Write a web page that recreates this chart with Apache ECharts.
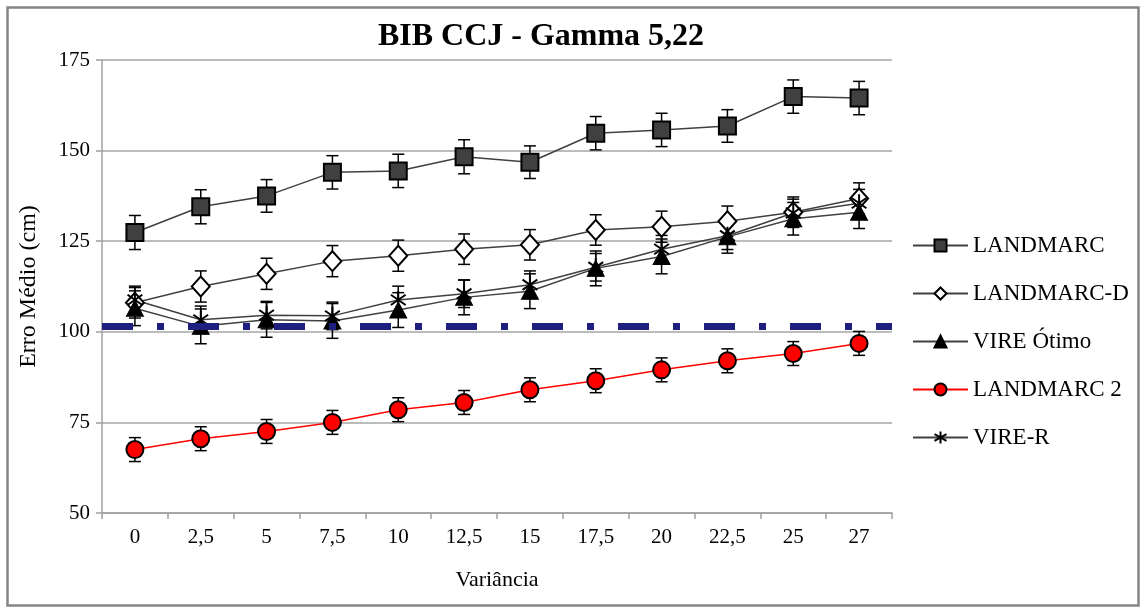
<!DOCTYPE html>
<html>
<head>
<meta charset="utf-8">
<script src="https://cdn.jsdelivr.net/npm/echarts@6/dist/echarts.min.js"></script>
<style>
html,body{margin:0;padding:0;background:#fff;}
#chart{width:1141px;height:608px;}
</style>
</head>
<body>
<div id="chart"></div>
<script>
const categories = ['0','2,5','5','7,5','10','12,5','15','17,5','20','22,5','25','27'];
const seriesNames = ['LANDMARC','LANDMARC-D','VIRE Ótimo','LANDMARC 2','VIRE-R'];
const landmarc     = [127.4,134.5,137.5,144.0,144.4,148.3,146.8,154.8,155.7,156.8,164.9,164.5];
const landmarcErr  = [4.7,4.7,4.5,4.6,4.6,4.7,4.5,4.6,4.6,4.5,4.6,4.6];
const landmarcD    = [108.0,112.5,116.0,119.5,121.0,122.8,124.0,128.1,129.0,130.5,133.0,136.8];
const landmarcDErr = [4.2,4.3,4.3,4.3,4.3,4.2,4.2,4.2,4.3,4.2,4.2,4.3];
const vireOtimo    = [106.5,101.5,103.3,103.0,106.0,109.5,111.2,117.5,120.8,126.2,131.2,133.0];
const vireOtimoErr = [4.8,4.8,4.8,4.8,4.8,4.8,4.8,4.8,4.8,4.5,4.5,4.5];
const landmarc2    = [67.5,70.5,72.5,75.0,78.5,80.5,84.0,86.5,89.5,92.0,94.0,96.8];
const landmarc2Err = [3.3,3.3,3.3,3.3,3.3,3.3,3.3,3.3,3.3,3.3,3.3,3.3];
const vireR        = [108.8,103.3,104.6,104.4,108.8,110.5,113.0,117.8,122.8,126.5,132.8,135.5];
const vireRErr     = [3.8,3.8,3.8,3.8,3.8,3.8,3.8,3.8,3.8,3.8,3.8,3.8];
const referenceLine = [101.5];
const yTicks = {min: 50, max: 175, interval: 25};

const FONT = 'Liberation Serif';
const asterisk = 'path://M0,-10 L0,10 M-8.2,-5.7 L8.2,5.7 M-8.2,5.7 L8.2,-5.7';

function errData(vals, errs){
  return vals.map((v,i)=>[i, v-errs[i], v+errs[i]]);
}
function errSeries(vals, errs){
  return {
    type:'custom', silent:true, z:1,
    data: errData(vals, errs),
    renderItem:function(params, api){
      const x = api.value(0);
      const lo = api.coord([x, api.value(1)]);
      const hi = api.coord([x, api.value(2)]);
      const hw = 6;
      const st = {stroke:'#000', lineWidth:1.5};
      return {type:'group', children:[
        {type:'line', shape:{x1:lo[0],y1:lo[1],x2:hi[0],y2:hi[1]}, style:st},
        {type:'line', shape:{x1:lo[0]-hw,y1:lo[1],x2:lo[0]+hw,y2:lo[1]}, style:st},
        {type:'line', shape:{x1:hi[0]-hw,y1:hi[1],x2:hi[0]+hw,y2:hi[1]}, style:st}
      ]};
    }
  };
}
function lineSeries(name, vals, opts){
  return Object.assign({
    name:name, type:'line', data:vals, z:3,
    symbolSize:17,
    lineStyle:{color:'#404040', width:1.5},
    emphasis:{disabled:true}
  }, opts);
}

const chart = echarts.init(document.getElementById('chart'));
chart.setOption({
  animation:false,
  backgroundColor:'#fff',
  title:{
    text:'BIB CCJ - Gamma 5,22', left:536, top:16, textAlign:'center',
    textStyle:{fontFamily:FONT, fontWeight:'bold', fontSize:32, color:'#000'}
  },
  graphic:[{
    type:'rect', left:5, top:5, shape:{width:1131, height:598},
    style:{fill:'none', stroke:'#858585', lineWidth:2.5}, silent:true
  }],
  legend:{
    orient:'vertical', left:907, top:229,
    itemWidth:55, itemHeight:15, itemGap:25,
    textStyle:{fontFamily:FONT, fontSize:23, color:'#000'},
    data:seriesNames
  },
  grid:{left:102, right:249, top:60, bottom:95},
  xAxis:{
    type:'category', data:categories, boundaryGap:true,
    name:'Variância', nameLocation:'middle', nameGap:56,
    nameTextStyle:{fontFamily:FONT, fontSize:22, color:'#000'},
    axisLine:{lineStyle:{color:'#A0A0A0', width:1.5}},
    axisTick:{show:true, length:6, lineStyle:{color:'#A0A0A0', width:1.5}},
    axisLabel:{fontFamily:FONT, fontSize:21, color:'#000', margin:14}
  },
  yAxis:{
    type:'value', min:yTicks.min, max:yTicks.max, interval:yTicks.interval,
    name:'Erro Médio (cm)', nameLocation:'middle', nameGap:61,
    nameTextStyle:{fontFamily:FONT, fontSize:24, color:'#000'},
    axisLine:{show:true, lineStyle:{color:'#A0A0A0', width:1.5}},
    axisTick:{show:true, length:6, lineStyle:{color:'#A0A0A0', width:1.5}},
    axisLabel:{fontFamily:FONT, fontSize:21, color:'#000', margin:12},
    splitLine:{lineStyle:{color:'#A6A6A6', width:1.5}}
  },
  series:[
    errSeries(landmarc, landmarcErr),
    errSeries(landmarcD, landmarcDErr),
    errSeries(vireOtimo, vireOtimoErr),
    errSeries(landmarc2, landmarc2Err),
    errSeries(vireR, vireRErr),
    lineSeries('LANDMARC', landmarc, {
      symbol:'rect', symbolSize:17,
      itemStyle:{color:'#404040', borderColor:'#000', borderWidth:2}
    }),
    lineSeries('LANDMARC-D', landmarcD, {
      symbol:'diamond', symbolSize:[18,20],
      itemStyle:{color:'#fff', borderColor:'#000', borderWidth:2}
    }),
    lineSeries('VIRE Ótimo', vireOtimo, {
      symbol:'triangle', symbolSize:[17,16],
      itemStyle:{color:'#000', borderColor:'#000', borderWidth:1}
    }),
    lineSeries('LANDMARC 2', landmarc2, {
      symbol:'circle', symbolSize:17,
      lineStyle:{color:'#FF0000', width:1.5},
      itemStyle:{color:'#FF0000', borderColor:'#000', borderWidth:2},
      markLine:{
        silent:true, symbol:'none', label:{show:false},
        lineStyle:{color:'#1F1F80', width:7, type:[31,24,7,24], opacity:1},
        data:[{yAxis:referenceLine[0]}]
      }
    }),
    lineSeries('VIRE-R', vireR, {
      symbol:asterisk, symbolSize:18, symbolKeepAspect:true,
      itemStyle:{color:'none', borderColor:'#000', borderWidth:2}
    })
  ]
});
</script>
</body>
</html>
